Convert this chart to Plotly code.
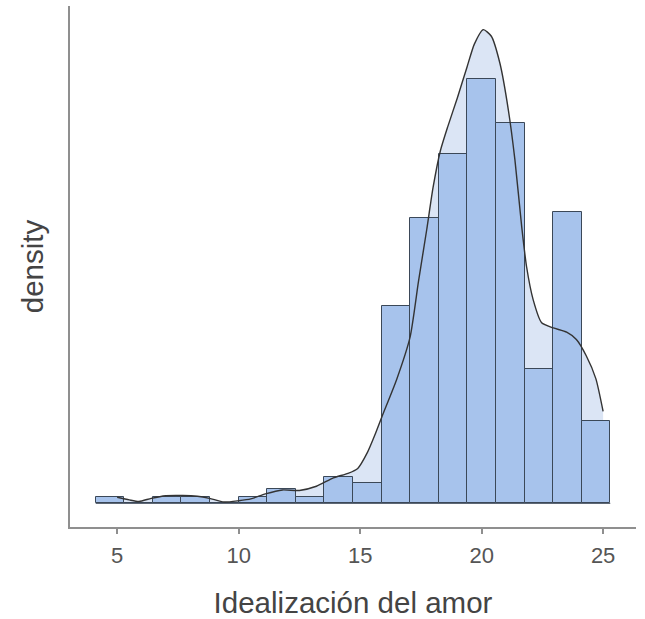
import plotly.graph_objects as go

# ---- data ----
bin_start = 4.118
bin_width = 20 / 17
bar_density = [0.00255, 0.0, 0.00255, 0.00255, 0.0, 0.00255, 0.0053, 0.00255,
               0.0101, 0.0078, 0.0750, 0.1086, 0.1331, 0.1615, 0.1449, 0.0510,
               0.1111, 0.0313]

curve_x = [5.0, 5.5, 5.9, 6.4, 7.0, 7.7, 8.3, 8.8, 9.4, 10.0, 10.5, 11.1, 11.8,
           12.5, 13.2, 13.9, 14.5, 14.9, 15.3, 15.6, 15.9, 16.5, 17.06, 17.4,
           17.74, 18.0, 18.3, 18.6, 19.0, 19.4, 19.7, 20.07, 20.4, 20.75, 21.1,
           21.37, 21.65, 21.85, 22.12, 22.47, 22.95, 23.5, 23.9, 24.3, 24.7, 25.0]
curve_y = [0.0023, 0.0013, 0.0007, 0.0019, 0.0029, 0.0030, 0.0027, 0.0019, 0.0005,
           0.0010, 0.0017, 0.0036, 0.0051, 0.0049, 0.0065, 0.0097, 0.0114, 0.0133,
           0.0194, 0.0259, 0.0331, 0.0471, 0.0635, 0.0844, 0.1042, 0.1202, 0.1342,
           0.1433, 0.1544, 0.1662, 0.1749, 0.1804, 0.1779, 0.1677, 0.1498, 0.1308,
           0.1053, 0.0901, 0.0776, 0.0688, 0.0668, 0.0652, 0.0624, 0.0563, 0.0475,
           0.0350]

x_ticks = [5, 10, 15, 20, 25]
x_title = "Idealización del amor"
y_title = "density"

# ---- derived geometry ----
n_bins = len(bar_density)
centers = [bin_start + (i + 0.5) * bin_width for i in range(n_bins)]
edge_lo = bin_start
edge_hi = bin_start + n_bins * bin_width
span = edge_hi - edge_lo
x_range = [edge_lo - 0.05 * span, edge_hi + 0.05 * span]
peak = max(max(curve_y), max(bar_density))
y_range = [-0.05 * peak, 1.05 * peak]

BAR_FILL = "#a7c3ec"
BAR_EDGE = "#3b4858"
AREA_FILL = "#dbe5f5"
AXIS_COL = "#8f8f8f"
FONT = "Liberation Sans, Arial, sans-serif"

fig = go.Figure()

# density area on the base axes (drawn underneath the bars)
fig.add_trace(go.Scatter(x=curve_x, y=curve_y, mode="lines", fill="tozeroy",
                         fillcolor=AREA_FILL, line=dict(width=0, shape="spline",
                         smoothing=0.6), hoverinfo="skip", showlegend=False,
                         xaxis="x", yaxis="y"))

# histogram bars on overlaying axes (drawn above the area)
fig.add_trace(go.Bar(x=centers, y=bar_density, width=bin_width,
                     marker=dict(color=BAR_FILL, line=dict(color=BAR_EDGE, width=1)),
                     showlegend=False, xaxis="x2", yaxis="y2"))

# baseline of the bars (includes empty bins)
fig.add_trace(go.Scatter(x=[edge_lo, edge_hi], y=[0, 0], mode="lines",
                         line=dict(color=BAR_EDGE, width=1), hoverinfo="skip",
                         showlegend=False, xaxis="x2", yaxis="y2"))

# density line on top
fig.add_trace(go.Scatter(x=curve_x, y=curve_y, mode="lines",
                         line=dict(color="#333333", width=1.4, shape="spline",
                                   smoothing=0.6),
                         hoverinfo="skip", showlegend=False, xaxis="x2", yaxis="y2"))

fig.update_layout(
    width=645, height=619,
    margin=dict(l=70, r=9, t=6, b=92),
    paper_bgcolor="white", plot_bgcolor="white",
    bargap=0,
    font=dict(family=FONT, color="#333333"),
    xaxis=dict(
        range=x_range, tickvals=x_ticks, ticktext=[str(v) for v in x_ticks],
        showgrid=False, zeroline=False, automargin=False,
        showline=True, linecolor=AXIS_COL, linewidth=2,
        ticks="outside", ticklen=5, tickwidth=2, tickcolor=AXIS_COL,
        tickfont=dict(size=22, color="#555555", family=FONT),
        ticklabelstandoff=3,
        title=dict(text=x_title, font=dict(size=29.5, color="#444444", family=FONT),
                   standoff=25),
    ),
    yaxis=dict(
        range=y_range, showticklabels=False, showgrid=False, zeroline=False,
        automargin=False,
        showline=True, linecolor=AXIS_COL, linewidth=2, ticks="",
        title=dict(text=y_title, font=dict(size=29.5, color="#444444", family=FONT),
                   standoff=16),
    ),
    xaxis2=dict(range=x_range, overlaying="x", visible=False, automargin=False),
    yaxis2=dict(range=y_range, overlaying="y", visible=False, automargin=False),
)

fig.write_html(
    "out.html",
    config={"displayModeBar": False},
    post_script="document.body.style.margin='0';document.body.style.overflow='hidden';",
)
